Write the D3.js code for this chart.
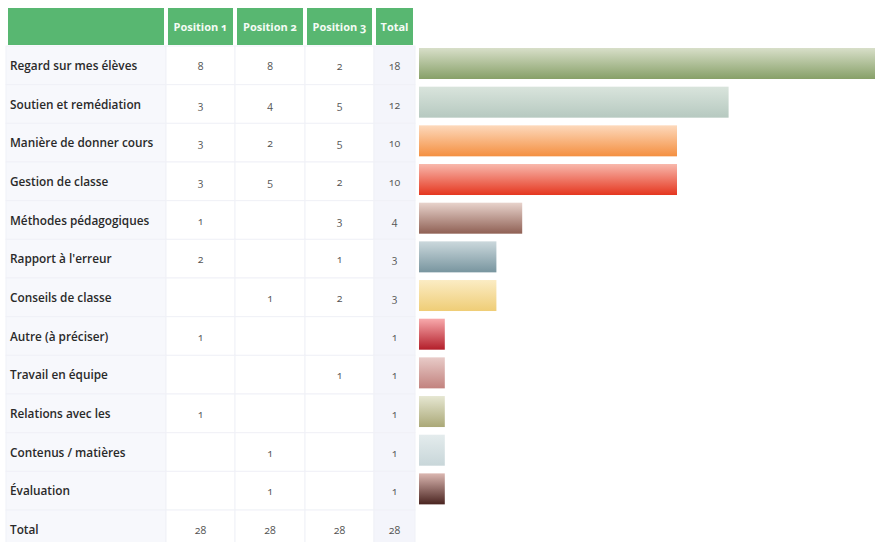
<!DOCTYPE html>
<html>
<head>
<meta charset="utf-8">
<title>Tableau et barres</title>
<script src="https://d3js.org/d3.v7.min.js"></script>
<style>
  body { margin: 0; background: #fff; }
  svg text { font-family: "Open Sans", "Noto Sans", sans-serif; font-variant-numeric: oldstyle-nums; }
</style>
</head>
<body>
<div id="chart"></div>
<script>
// data
var categories = ["Regard sur mes élèves", "Soutien et remédiation", "Manière de donner cours",
  "Gestion de classe", "Méthodes pédagogiques", "Rapport à l'erreur", "Conseils de classe",
  "Autre (à préciser)", "Travail en équipe", "Relations avec les", "Contenus / matières", "Évaluation"];
var position1 = [8, 3, 3, 3, 1, 2, null, 1, null, 1, null, null];
var position2 = [8, 4, 2, 5, null, null, 1, null, null, null, 1, 1];
var position3 = [2, 5, 5, 2, 3, 1, 2, null, 1, null, null, null];
var totals = [18, 12, 10, 10, 4, 3, 3, 1, 1, 1, 1, 1];
var columnTotals = [28, 28, 28, 28];
var headers = ["", "Position 1", "Position 2", "Position 3", "Total"];
var barColors = [
  ["#d8dfc9", "#87a068"], ["#d9e4dc", "#b6c9c0"], ["#fdd9bc", "#f48f40"], ["#f8b8ac", "#e5361f"],
  ["#e8d3cc", "#8f6054"], ["#cbd8dc", "#78959f"], ["#fbecc4", "#efcd76"], ["#f8aaac", "#b31e2a"],
  ["#e8cbc8", "#c2827e"], ["#e6e7d2", "#aaa877"], ["#e4eced", "#c8d6d9"], ["#dbb7b1", "#4a2420"]
];

var width = 875, height = 542;
var svg = d3.select("#chart").append("svg")
  .attr("width", width).attr("height", height);

var defs = svg.append("defs");
barColors.forEach(function(c, i) {
  var g = defs.append("linearGradient").attr("id", "grad" + i)
    .attr("x1", 0).attr("y1", 0).attr("x2", 0).attr("y2", 1);
  g.append("stop").attr("offset", "0%").attr("stop-color", c[0]);
  g.append("stop").attr("offset", "100%").attr("stop-color", c[1]);
});

// table columns
var colX = [8, 168, 237, 307, 376];
var colW = [156, 65, 66, 65, 37];
var rowNames = categories.concat(["Total"]);
var y = d3.scaleBand().domain(rowNames).range([46, 46 + 38.67 * rowNames.length]);

// header
var head = svg.append("g");
headers.forEach(function(h, j) {
  head.append("rect").attr("x", colX[j]).attr("y", 8).attr("width", colW[j]).attr("height", 37)
    .attr("fill", "#58b771");
  head.append("text").attr("x", colX[j] + colW[j] / 2).attr("y", 31)
    .attr("text-anchor", "middle").attr("fill", "#f4fbf5")
    .attr("font-size", "11px").attr("font-weight", 700).text(h);
});

// body cells
var bodyFill = ["#f7f8fc", "#ffffff", "#ffffff", "#ffffff", "#f4f5fb"];
var body = svg.append("g");
rowNames.forEach(function(r, i) {
  colX.forEach(function(x0, j) {
    body.append("rect").attr("x", x0 - 2).attr("y", y(r)).attr("width", colW[j] + 4)
      .attr("height", y.bandwidth()).attr("fill", bodyFill[j])
      .attr("stroke", "#f0f1f7").attr("stroke-width", 1);
  });
});

// labels and values
var rowsValues = categories.map(function(c, i) {
  return [position1[i], position2[i], position3[i], totals[i]];
});
rowsValues.push(columnTotals);

rowNames.forEach(function(r, i) {
  var cy = y(r) + y.bandwidth() / 2 + 4.5;
  body.append("text").attr("x", 10).attr("y", cy)
    .attr("fill", "#2a2a2a").attr("font-size", "11.8px").attr("font-weight", 600)
    .text(r);
  rowsValues[i].forEach(function(v, j) {
    if (v == null) return;
    body.append("text").attr("x", colX[j + 1] + colW[j + 1] / 2).attr("y", cy)
      .attr("text-anchor", "middle").attr("fill", "#555").attr("font-size", "10.5px")
      .text(v);
  });
});

// bars
var x = d3.scaleLinear().domain([0, 10]).range([419, 677]);
svg.append("g").selectAll("rect")
  .data(categories)
  .join("rect")
  .attr("x", x(0))
  .attr("y", function(d) { return y(d) + 2; })
  .attr("width", function(d, i) { return x(totals[i]) - x(0); })
  .attr("height", 31)
  .attr("fill", function(d, i) { return "url(#grad" + i + ")"; });
</script>
</body>
</html>
